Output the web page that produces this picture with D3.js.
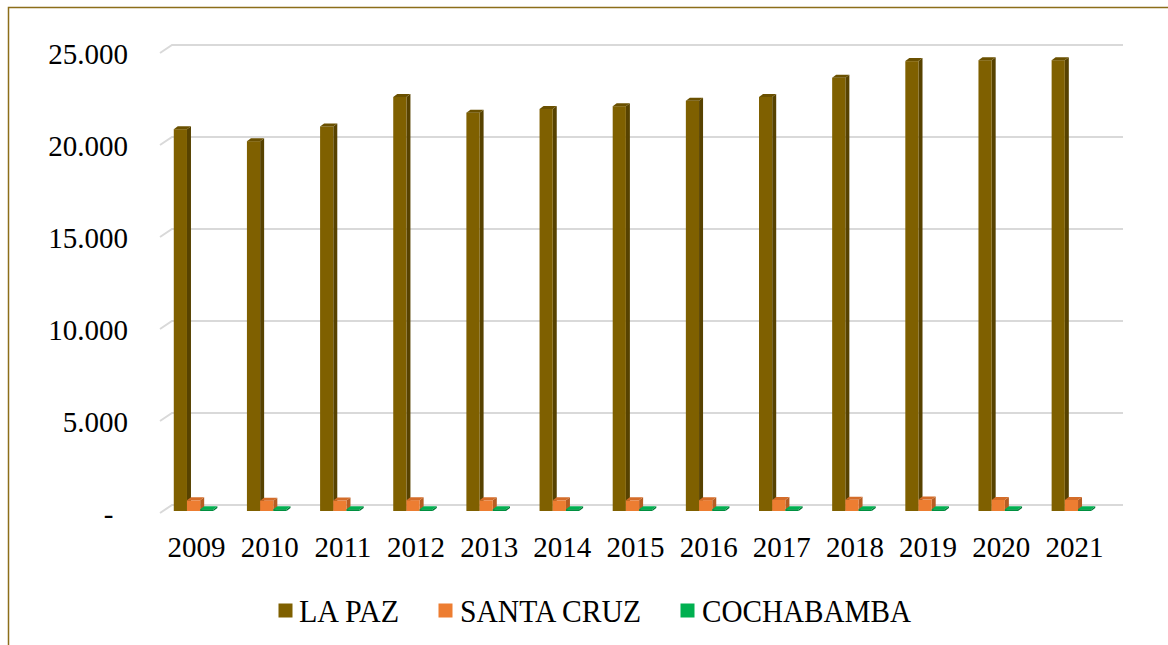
<!DOCTYPE html>
<html>
<head>
<meta charset="utf-8">
<script src="https://cdn.jsdelivr.net/npm/d3@7"></script>
<style>
  html, body { margin: 0; padding: 0; background: #fff; }
  svg { display: block; }
  text { font-family: "Liberation Serif", "Times New Roman", serif; fill: #000; }
</style>
</head>
<body>
<svg id="chart" width="1168" height="645"></svg>
<script>
// ---- data ----
const years = ["2009","2010","2011","2012","2013","2014","2015","2016","2017","2018","2019","2020","2021"];
const seriesNames = ["LA PAZ", "SANTA CRUZ", "COCHABAMBA"];
const laPaz      = [20750, 20100, 20900, 22500, 21650, 21850, 22000, 22300, 22500, 23550, 24450, 24500, 24500];
const santaCruz  = [580, 560, 570, 590, 580, 580, 580, 590, 600, 610, 620, 600, 600];
const cochabamba = [100, 100, 100, 100, 100, 100, 100, 100, 100, 100, 100, 100, 100];
const yTicks = [0, 5000, 10000, 15000, 20000, 25000];
const yTickLabels = ["-\u2007", "5.000", "10.000", "15.000", "20.000", "25.000"];

const seriesValues = [laPaz, santaCruz, cochabamba];
const colors = {
  "LA PAZ":     { front: "#7F6000", side: "#574200", top: "#6a5000", legend: "#7F6000" },
  "SANTA CRUZ": { front: "#ED7D31", side: "#b65d22", top: "#d46c29", legend: "#ED7D31" },
  "COCHABAMBA": { front: "#008f40", side: "#007535", top: "#00B050", legend: "#00B050" }
};

const svg = d3.select("#chart");

// outer border
svg.append("rect").attr("x", 8.5).attr("y", 7.5).attr("width", 1300).attr("height", 800)
  .attr("fill", "none").attr("stroke", "#8c6e1a").attr("stroke-width", 1.5);

// scales
const depthX = 12, depthY = 8;           // floor depth (front -> back)
const yFront = d3.scaleLinear().domain([0, 25000]).range([513, 53]);
const yBack  = d3.scaleLinear().domain([0, 25000]).range([513 - depthY, 53 - depthY]);
const yBar   = d3.scaleLinear().domain([0, 25000]).range([511, 51]);
const x0 = d3.scaleBand().domain(years).range([160, 1111]).padding(0);
const groupW = 39.6;
const xs = d3.scaleBand().domain(seriesNames).range([0, groupW]).padding(0);

// gridlines (back wall + left slanted floor/side edge)
const grid = svg.append("g");
yTicks.forEach(t => {
  grid.append("path")
    .attr("d", `M160,${yFront(t)} L${160 + depthX},${yBack(t)} L1123,${yBack(t)}`)
    .attr("fill", "none").attr("stroke", "#d9d9d9").attr("stroke-width", 2);
});

// y labels
svg.append("g").selectAll("text").data(yTicks).join("text")
  .attr("x", 128).attr("y", d => yFront(d) + 11)
  .attr("text-anchor", "end").attr("font-size", 29)
  .text((d, i) => yTickLabels[i]);

// x labels
svg.append("g").selectAll("text").data(years).join("text")
  .attr("x", d => x0(d) + x0.bandwidth() / 2)
  .attr("y", 557).attr("text-anchor", "middle").attr("font-size", 29)
  .text(d => d);

// bars (3D)
const bdx = 4, bdy = 3;
const barsG = svg.append("g");
years.forEach((yr, i) => {
  const gx = x0(yr) + x0.bandwidth() / 2 - 3 - groupW / 2;
  seriesNames.forEach((s, k) => {
    const v = seriesValues[k][i];
    const x = gx + xs(s), w = xs.bandwidth();
    const yt = yBar(v), yb = yBar(0);
    const c = colors[s];
    const g = barsG.append("g");
    g.append("path")
      .attr("d", `M${x + w},${yt} L${x + w + bdx},${yt - bdy} L${x + w + bdx},${yb - bdy} L${x + w},${yb} Z`)
      .attr("fill", c.side);
    g.append("rect").attr("x", x).attr("y", yt).attr("width", w).attr("height", yb - yt)
      .attr("fill", c.front);
    g.append("path")
      .attr("d", `M${x},${yt} L${x + w},${yt} L${x + w + bdx},${yt - bdy} L${x + bdx},${yt - bdy} Z`)
      .attr("fill", c.top);
  });
});

// legend
const legendItems = [
  { name: "LA PAZ", sx: 278.5, tx: 299, tw: 100 },
  { name: "SANTA CRUZ", sx: 438.5, tx: 460, tw: 181 },
  { name: "COCHABAMBA", sx: 680.5, tx: 702, tw: 209 }
];
const lg = svg.append("g");
legendItems.forEach(it => {
  lg.append("rect").attr("x", it.sx).attr("y", 603.5).attr("width", 14).attr("height", 14)
    .attr("fill", colors[it.name].legend);
  lg.append("text").attr("x", it.tx).attr("y", 622).attr("font-size", 32)
    .attr("textLength", it.tw).attr("lengthAdjust", "spacingAndGlyphs")
    .text(it.name);
});
</script>
</body>
</html>
